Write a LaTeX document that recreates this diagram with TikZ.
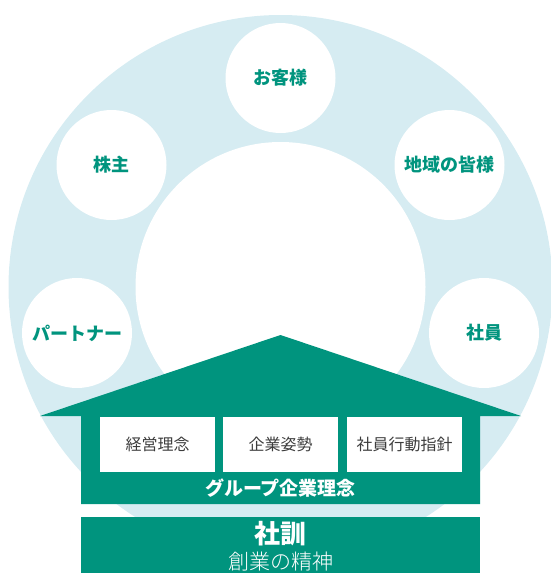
\documentclass[tikz,border=0pt]{standalone}
\usepackage{fontspec}
\newfontfamily\jp{Noto Sans CJK JP}
\newfontfamily\jplight{Noto Sans CJK JP Light}
\definecolor{teal1}{RGB}{0,148,126}
\definecolor{ringblue}{RGB}{214,236,242}
\definecolor{boxtext}{RGB}{60,60,60}
\tikzset{
  stake/.style={circle, fill=white, minimum size=110pt, inner sep=0pt, text=teal1, font=\jp\bfseries\fontsize{18}{20}\selectfont},
  pillar/.style={rectangle, fill=white, minimum width=115pt, minimum height=55pt, inner sep=0pt, text=boxtext, font=\jp\fontsize{16}{18}\selectfont},
}
\begin{document}
\begin{tikzpicture}[x=1pt,y=-1pt]
\useasboundingbox (0,0) rectangle (551,573);
\coordinate (c) at (280.5,287);
\fill[ringblue] (c) circle (272pt);
\fill[white] (c) circle (145pt);
\node[stake] (kabu) at (111.5,165) {株主};
\node[stake] (okyaku) at (280.5,78) {お客様};
\node[stake] (chiiki) at (449.5,165) {地域の皆様};
\node[stake] (partner) at (77,333) {パートナー};
\node[stake] (shain) at (484,333) {社員};
\fill[teal1] (40,416) -- (280.5,335) -- (521,416) -- (480,416) -- (480,504) -- (81,504) -- (81,416) -- cycle;
\node[pillar] (b1) at (157.5,444.5) {経営理念};
\node[pillar] (b2) at (280.5,444.5) {企業姿勢};
\node[pillar] (b3) at (404.5,444.5) {社員行動指針};
\node[text=white, font=\jp\bfseries\fontsize{19}{21}\selectfont] (group) at (280.5,488) {グループ企業理念};
\fill[teal1] (81,517) rectangle (480,580);
\node[text=white, font=\jp\bfseries\fontsize{26}{28}\selectfont] (kun) at (280.5,534) {社訓};
\node[text=white, font=\jplight\fontsize{21}{24}\selectfont] (seishin) at (280.5,562) {創業の精神};
\end{tikzpicture}
\end{document}
